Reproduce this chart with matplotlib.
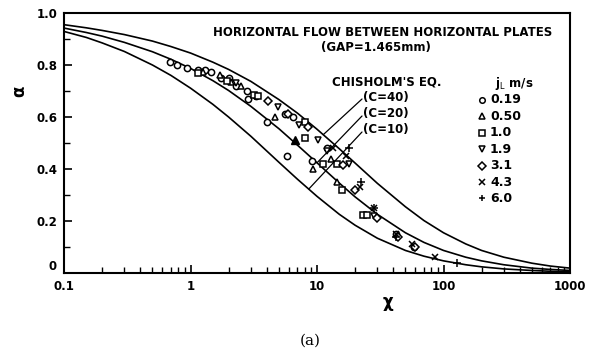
import numpy as np
import matplotlib
matplotlib.use('Agg')
import matplotlib.pyplot as plt
from matplotlib.ticker import FixedLocator, NullFormatter

# ---- Chisholm curves ----
chi_curve = [0.1, 0.15, 0.2, 0.3, 0.5, 0.7, 1, 1.5, 2, 3, 5, 7, 10, 15, 20, 30,
             50, 70, 100, 150, 200, 300, 500, 700, 1000]
alpha_c40 = [0.955, 0.943, 0.933, 0.917, 0.892, 0.871, 0.846, 0.811, 0.783, 0.737,
             0.667, 0.615, 0.553, 0.478, 0.423, 0.345, 0.255, 0.202, 0.155, 0.112,
             0.087, 0.061, 0.038, 0.027, 0.019]
alpha_c20 = [0.942, 0.925, 0.911, 0.887, 0.851, 0.822, 0.787, 0.740, 0.702, 0.641,
             0.555, 0.492, 0.424, 0.346, 0.293, 0.226, 0.155, 0.118, 0.087, 0.061,
             0.047, 0.032, 0.019, 0.014, 0.010]
alpha_c10 = [0.929, 0.906, 0.885, 0.852, 0.800, 0.760, 0.711, 0.649, 0.600, 0.526,
             0.426, 0.361, 0.295, 0.226, 0.184, 0.134, 0.087, 0.065, 0.047, 0.032,
             0.024, 0.016, 0.010, 0.007, 0.005]

# ---- measured data, one list pair per liquid velocity jL ----
x_019 = [0.69, 0.78, 0.94, 1.15, 1.3, 1.45, 1.75, 2.0, 2.3, 2.8, 2.85, 3.3, 4.0,
         5.6, 5.8, 6.5, 9.1, 12, 42, 58]
a_019 = [0.81, 0.80, 0.79, 0.78, 0.78, 0.775, 0.75, 0.75, 0.72, 0.70, 0.67, 0.68,
         0.58, 0.61, 0.45, 0.60, 0.43, 0.48, 0.15, 0.10]
x_050 = [1.25, 1.7, 2.1, 2.5, 4.65, 9.3, 14.5, 13]
a_050 = [0.775, 0.76, 0.735, 0.72, 0.60, 0.40, 0.35, 0.44]
x_050_fill = [6.7]
a_050_fill = [0.51]
x_10 = [1.15, 1.95, 3.2, 3.4, 8.0, 8.0, 11.1, 14.4, 15.7, 23, 25]
a_10 = [0.77, 0.74, 0.685, 0.68, 0.58, 0.52, 0.42, 0.42, 0.32, 0.225, 0.225]
x_19 = [2.3, 4.9, 10.2, 7.2, 12, 18, 28]
a_19 = [0.73, 0.64, 0.51, 0.57, 0.47, 0.42, 0.22]
x_31 = [4.1, 5.9, 8.5, 16, 19.8, 30, 60, 44]
a_31 = [0.66, 0.61, 0.56, 0.415, 0.32, 0.21, 0.10, 0.14]
x_43 = [13.4, 17, 22, 28, 42, 56, 85]
a_43 = [0.48, 0.45, 0.33, 0.25, 0.15, 0.11, 0.06]
x_60 = [18, 22.4, 28, 42, 127]
a_60 = [0.48, 0.35, 0.25, 0.14, 0.04]

legend_labels = ['0.19', '0.50', '1.0', '1.9', '3.1', '4.3', '6.0']
legend_markers = ['o', '^', 's', 'v', 'D', 'x', '+']

fig = plt.figure(figsize=(5.95, 3.51), dpi=100)
ax = fig.add_axes([0.1076, 0.222, 0.8504, 0.741])

ax.plot(chi_curve, alpha_c40, color='black', lw=1.2)
ax.plot(chi_curve, alpha_c20, color='black', lw=1.2)
ax.plot(chi_curve, alpha_c10, color='black', lw=1.2)

ms = 4.5
open_kw = dict(linestyle='none', markerfacecolor='white', markeredgecolor='black',
               markeredgewidth=1.1, markersize=ms)
ax.plot(x_019, a_019, marker='o', **open_kw)
ax.plot(x_050, a_050, marker='^', **open_kw)
ax.plot(x_050_fill, a_050_fill, marker='^', linestyle='none', color='black', markersize=ms + 1)
ax.plot(x_10, a_10, marker='s', **open_kw)
ax.plot(x_19, a_19, marker='v', **open_kw)
ax.plot(x_31, a_31, marker='D', **dict(open_kw, markersize=ms - 0.5))
ax.plot(x_43, a_43, marker='x', linestyle='none', color='black', markersize=ms, mew=1.1)
ax.plot(x_60, a_60, marker='+', linestyle='none', color='black', markersize=ms + 1, mew=1.1)

ax.set_xscale('log')
ax.set_xlim(0.1, 1000)
ax.set_ylim(0, 1.0)

for s in ax.spines.values():
    s.set_linewidth(1.5)

ax.xaxis.set_major_locator(FixedLocator([0.1, 1, 10, 100, 1000]))
ax.set_xticklabels(['0.1', '1', '10', '100', '1000'])
minors = [m * d for d in [0.1, 1, 10, 100] for m in range(2, 10)]
ax.xaxis.set_minor_locator(FixedLocator(minors))
ax.xaxis.set_minor_formatter(NullFormatter())
ax.set_yticks([0, 0.2, 0.4, 0.6, 0.8, 1.0])
ax.set_yticklabels(['0', '0.2', '0.4', '0.6', '0.8', '1.0'])
ax.set_yticks([0.1, 0.3, 0.5, 0.7, 0.9], minor=True)
ax.tick_params(which='major', direction='in', length=6, width=1.2, labelsize=8.5)
ax.tick_params(axis='x', which='major', pad=5)
ax.tick_params(axis='y', which='major', pad=5)
ax.tick_params(which='minor', direction='in', length=4, width=1.0)
ax.tick_params(axis='y', which='both', right=False)
ax.tick_params(axis='x', which='both', top=False)
for lab in ax.get_xticklabels() + ax.get_yticklabels():
    lab.set_fontweight('bold')
# the "0" on the y axis sits a little above the corner
ax.get_yticklabels()[0].set_verticalalignment('bottom')

ax.set_xlabel('χ', fontsize=12, fontweight='bold')
ax.xaxis.set_label_coords(0.64, -0.075)
ax.set_ylabel('α', fontsize=12, fontweight='bold')
ax.yaxis.set_label_coords(-0.07, 0.70)

tkw = dict(transform=fig.transFigure, fontweight='bold', fontsize=8.5, color='black')
fig.text(383 / 595, 1 - 32 / 351, 'HORIZONTAL FLOW BETWEEN HORIZONTAL PLATES',
         ha='center', va='center', **tkw)
fig.text(376 / 595, 1 - 48 / 351, '(GAP=1.465mm)', ha='center', va='center', **tkw)
fig.text(332 / 595, 1 - 82 / 351, "CHISHOLM'S EQ.", ha='left', va='center', **tkw)

# leader lines from the C labels to the curves
for lbl, y_px, xc, curve in [('(C=40)', 97, 11.2, alpha_c40),
                             ('(C=20)', 114, 10.0, alpha_c20),
                             ('(C=10)', 130, 8.6, alpha_c10)]:
    fig.text(363 / 595, 1 - y_px / 351, lbl, ha='left', va='center', **tkw)
    yc = np.interp(np.log10(xc), np.log10(chi_curve), curve)
    ax.annotate('', xy=(xc, yc), xycoords='data',
                xytext=(362 / 595, 1 - (y_px + 2) / 351), textcoords='figure fraction',
                arrowprops=dict(arrowstyle='-', color='black', lw=0.9, shrinkA=0, shrinkB=0))

# legend block
fig.text(495 / 595, 1 - 83 / 351, 'j$_{\\rm L}$ m/s', ha='left', va='center', **tkw)
for i, (lab, mk) in enumerate(zip(legend_labels, legend_markers)):
    yy = 1 - (100 + i * 16.4) / 351
    if mk in ('x', '+'):
        fig.lines.append(plt.Line2D([482 / 595], [yy], marker=mk, color='black',
                                    markersize=ms, mew=1.1, transform=fig.transFigure))
    else:
        fig.lines.append(plt.Line2D([482 / 595], [yy], marker=mk, markerfacecolor='white',
                                    markeredgecolor='black', markeredgewidth=1.1,
                                    markersize=ms - 0.5, transform=fig.transFigure))
    fig.text(490 / 595, yy, lab, ha='left', va='center', fontsize=9,
             fontweight='bold', transform=fig.transFigure)

fig.text(310 / 595, 1 - 341 / 351, '(a)', ha='center', va='center', fontsize=11,
         family='DejaVu Serif')

fig.savefig('out.png', dpi=100)
